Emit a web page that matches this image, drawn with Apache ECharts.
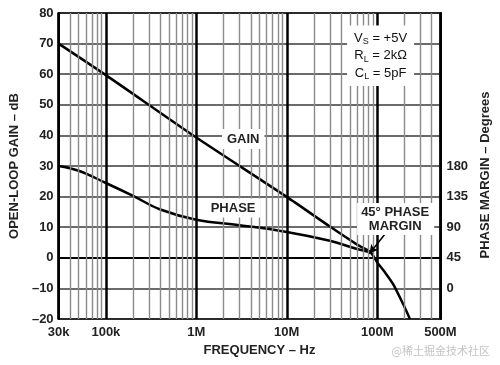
<!DOCTYPE html>
<html>
<head>
<meta charset="utf-8">
<script src="https://cdn.jsdelivr.net/npm/echarts@6/dist/echarts.min.js"></script>
<style>html,body{margin:0;padding:0;background:#fff}#c{width:500px;height:365px}</style>
</head>
<body>
<div id="c"></div>
<script>
// ---- data ----
const gainFreq = [3e4, 1e5, 1e6, 1e7, 3e7, 6e7, 8.4e7, 1e8, 1.2e8, 1.5e8, 2e8, 2.3e8];
const gainDb   = [70, 59.7, 39.3, 19.9, 10.2, 4.3, 1.9, -1.5, -4.5, -8.6, -16, -20];
const phaseFreq = [3e4, 5e4, 1e5, 2e5, 4e5, 1e6, 3e6, 1e7, 3e7, 6e7, 8.4e7];
const phaseDeg  = [180, 173, 155, 136, 116, 101, 93, 83, 70, 58, 53];
const freqTickLabels = {30000: '30k', 100000: '100k', 1000000: '1M', 10000000: '10M', 100000000: '100M', 500000000: '500M'};
const phaseTickLabels = [0, 45, 90, 135, 180];
const minorFreqs = [4e4,5e4,6e4,7e4,8e4,9e4, 2e5,3e5,4e5,5e5,6e5,7e5,8e5,9e5, 2e6,3e6,4e6,5e6,6e6,7e6,8e6,9e6, 2e7,3e7,4e7,5e7,6e7,7e7,8e7,9e7, 2e8,3e8,4e8];

const FONT = '"Liberation Sans", Arial, sans-serif';
const chart = echarts.init(document.getElementById('c'), null, {renderer: 'canvas'});

function fmtNeg(v){ return v < 0 ? '\u2013' + Math.abs(v) : String(v); }

const option = {
  animation: false,
  backgroundColor: '#fff',
  grid: {left: 58, right: 56, top: 13, bottom: 46, show: true, borderColor: '#000', borderWidth: 2, backgroundColor: 'transparent'},
  xAxis: {
    type: 'log', logBase: 10, min: 30000, max: 500000000,
    name: 'FREQUENCY \u2013 Hz', nameLocation: 'middle', nameGap: 24,
    nameTextStyle: {fontFamily: FONT, fontWeight: 'bold', fontSize: 13, color: '#222', padding: [0, 0, 0, 20]},
    axisLine: {lineStyle: {color: '#000', width: 2}},
    axisTick: {show: false},
    axisLabel: {show: true, showMinLabel: true, showMaxLabel: true, margin: 7, fontFamily: FONT, fontWeight: 'bold', fontSize: 13, color: '#222',
      formatter: v => freqTickLabels[Math.round(v)] || ''},
    splitLine: {show: true, lineStyle: {color: '#000', width: 2.5}}
  },
  yAxis: [{
    type: 'value', min: -20, max: 80, interval: 10,
    name: 'OPEN-LOOP GAIN \u2013 dB', nameLocation: 'middle', nameGap: 25, nameRotate: 90,
    nameTextStyle: {fontFamily: FONT, fontWeight: 'bold', fontSize: 13, color: '#222'},
    axisLine: {show: true, lineStyle: {color: '#000', width: 2}},
    axisTick: {show: false},
    axisLabel: {margin: 5, fontFamily: FONT, fontWeight: 'bold', fontSize: 13, color: '#222', formatter: fmtNeg},
    splitLine: {show: true, lineStyle: {color: '#3a3a3a', width: 1.6}}
  }, {
    type: 'value', min: -45, max: 405, interval: 45, position: 'right',
    name: 'PHASE MARGIN \u2013 Degrees', nameLocation: 'middle', nameGap: 32, nameRotate: 90,
    nameTextStyle: {fontFamily: FONT, fontWeight: 'bold', fontSize: 13, color: '#222', padding: [0, 18, 0, 0]},
    axisLine: {show: true, lineStyle: {color: '#000', width: 2}},
    axisTick: {show: false},
    axisLabel: {margin: 6, fontFamily: FONT, fontWeight: 'bold', fontSize: 13, color: '#222',
      formatter: v => phaseTickLabels.indexOf(v) >= 0 ? String(v) : ''},
    splitLine: {show: false}
  }],
  graphic: [{
    type: 'text', right: 10, bottom: 9, z: 100,
    style: {text: '@\u7a00\u571f\u6398\u91d1\u6280\u672f\u793e\u533a', fill: '#c4c4c4', font: '11px "Noto Sans CJK SC", sans-serif'}
  }],
  series: [{
    name: 'minorGrid', type: 'line', z: 1, data: [], silent: true,
    markLine: {silent: true, symbol: ['none', 'none'], label: {show: false}, animation: false,
      lineStyle: {color: '#8a8a8a', width: 1.4, type: 'solid'},
      data: minorFreqs.map(f => ({xAxis: f}))}
  }, {
    name: 'GAIN', type: 'line', z: 3, smooth: 0.25, showSymbol: false, symbol: 'none',
    lineStyle: {color: '#000', width: 2.5},
    data: gainFreq.map((f, i) => [f, gainDb[i]])
  }, {
    name: 'PHASE', type: 'line', z: 3, yAxisIndex: 1, smooth: 0.4, showSymbol: false, symbol: 'none',
    lineStyle: {color: '#000', width: 2.5},
    data: phaseFreq.map((f, i) => [f, phaseDeg[i]])
  }, {
    name: 'notes', type: 'line', z: 6, data: [], silent: true,
    markLine: {silent: true, symbol: ['none', 'arrow'], symbolSize: [7, 9], label: {show: false}, animation: false,
      lineStyle: {color: '#000', width: 1.5, type: 'solid'},
      data: [[{coord: [1.22e8, 7.8]}, {coord: [8.2e7, 1.3]}]]},
    markPoint: {silent: true, symbol: 'rect', symbolSize: 1, itemStyle: {color: 'rgba(0,0,0,0)'}, animation: false,
      label: {show: true, position: 'inside', fontFamily: FONT, fontWeight: 'bold', fontSize: 13, color: '#222', backgroundColor: '#fff'},
      data: [
        {coord: [3.3e6, 38.8], label: {formatter: 'GAIN', padding: [4, 5, 3, 5]}},
        {coord: [2.55e6, 16.3], label: {formatter: 'PHASE', padding: [3, 5, 3, 5]}},
        {coord: [1.6e8, 12.7], label: {formatter: '45\u00b0 PHASE\nMARGIN', align: 'center', lineHeight: 14, padding: [2, 5, 2, 4],
          rich: {}}},
        {coord: [1.09e8, 66], label: {
          formatter: '{t|V}{s|S}{t| = +5V}\n{t|R}{s|L}{t| = 2k\u03a9}\n{t|C}{s|L}{t| = 5pF}',
          padding: [4, 7, 4, 7],
          rich: {
            t: {fontFamily: FONT, fontSize: 13, fontWeight: 'normal', color: '#111', lineHeight: 17.5},
            s: {fontFamily: FONT, fontSize: 9, fontWeight: 'normal', color: '#111', lineHeight: 17.5, padding: [7, 0, 0, 0]}
          }}}
      ]}
  }]
};
chart.setOption(option);
</script>
</body>
</html>
